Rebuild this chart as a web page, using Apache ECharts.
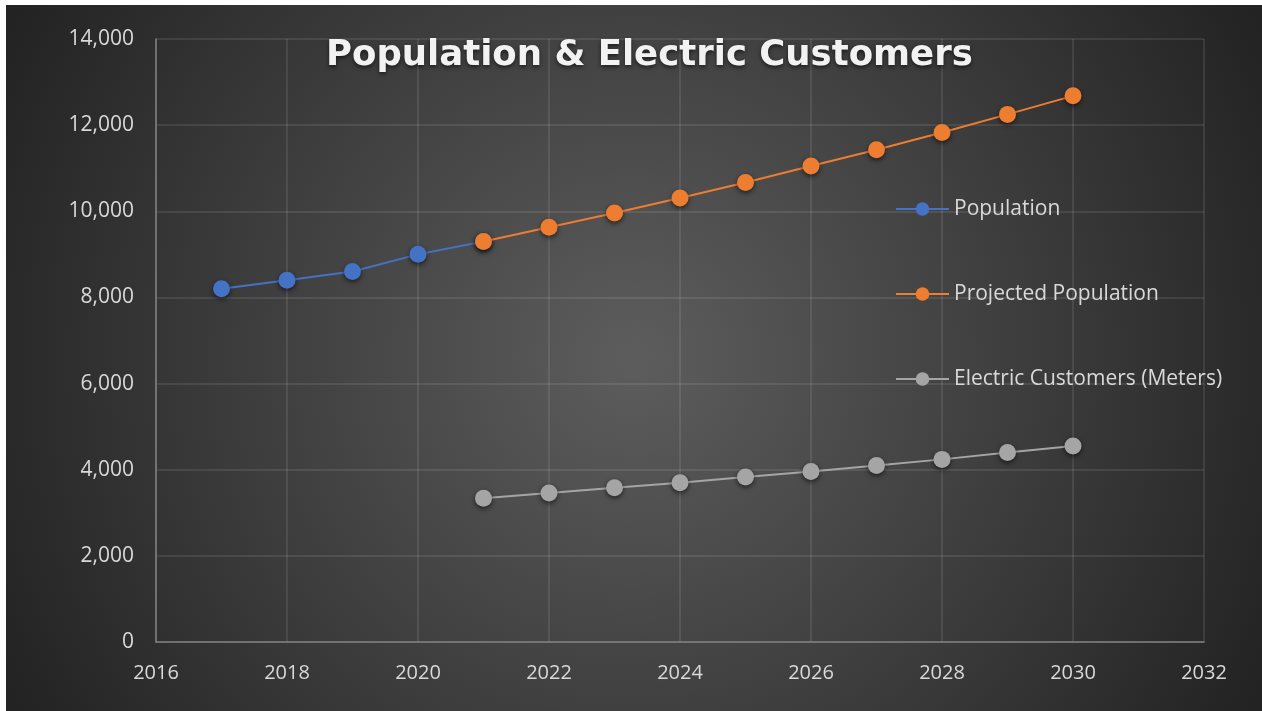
<!DOCTYPE html>
<html>
<head>
<meta charset="utf-8">
<script src="https://cdn.jsdelivr.net/npm/echarts@6/dist/echarts.min.js"></script>
<style>
html,body{margin:0;padding:0;background:#ffffff;}
#c{position:absolute;left:6px;top:5px;width:1256px;height:706px;}
</style>
</head>
<body>
<div id="c"></div>
<script>
var titleText = 'Population & Electric Customers';
var seriesNames = ['Population', 'Projected Population', 'Electric Customers (Meters)'];
var popYears = [2017, 2018, 2019, 2020, 2021];
var popValues = [8200, 8400, 8600, 9000, 9300];
var projYears = [2021, 2022, 2023, 2024, 2025, 2026, 2027, 2028, 2029, 2030];
var projValues = [9300, 9630, 9960, 10310, 10670, 11050, 11430, 11830, 12250, 12680];
var elecYears = [2021, 2022, 2023, 2024, 2025, 2026, 2027, 2028, 2029, 2030];
var elecValues = [3340, 3460, 3580, 3700, 3830, 3960, 4100, 4240, 4400, 4550];
var colors = ['#4472C4', '#ED7D31', '#A5A5A5'];

function pairs(xs, ys) { return xs.map(function (x, i) { return [x, ys[i]]; }); }

var chart = echarts.init(document.getElementById('c'));
var labelColor = '#d9d9d9';
var font = '"Open Sans", "Noto Sans", sans-serif';
function mk(name, data, color, z) {
  return {
    name: name, type: 'line', data: data, z: z,
    symbol: 'circle', symbolSize: 17,
    lineStyle: { color: color, width: 2 },
    itemStyle: { color: color, shadowBlur: 5, shadowColor: 'rgba(0,0,0,0.6)', shadowOffsetY: 2 },
    emphasis: { disabled: true },
    animation: false
  };
}
chart.setOption({
  animation: false,
  backgroundColor: {
    type: 'radial', x: 0.5, y: 0.5, r: 1.0,
    colorStops: [{ offset: 0, color: '#5d5d5d' }, { offset: 1, color: '#232323' }]
  },
  title: {
    text: titleText, left: 315, top: 28,
    textStyle: { color: '#f2f2f2', fontSize: 35.5, fontWeight: 'bold', fontFamily: '"DejaVu Sans", sans-serif',
      textShadowColor: 'rgba(0,0,0,0.6)', textShadowBlur: 4, textShadowOffsetY: 2 }
  },
  legend: {
    orient: 'vertical', left: 884, top: 188, itemGap: 63,
    itemWidth: 53, itemHeight: 17,
    data: seriesNames,
    textStyle: { color: labelColor, fontSize: 21, fontFamily: font, lineHeight: 22 }
  },
  grid: { left: 150, right: 58, top: 34, bottom: 69, containLabel: false },
  xAxis: {
    type: 'value', min: 2016, max: 2032, interval: 2,
    axisLine: { show: true, lineStyle: { color: '#808080', width: 1.5 } },
    axisTick: { show: false },
    axisLabel: { color: labelColor, fontSize: 20, fontFamily: font, margin: 21,
      formatter: function (v) { return String(v); } },
    splitLine: { show: true, lineStyle: { color: 'rgba(255,255,255,0.12)', width: 1.5 } }
  },
  yAxis: {
    type: 'value', min: 0, max: 14000, interval: 2000,
    axisLine: { show: true, lineStyle: { color: '#808080', width: 1.5 } },
    axisTick: { show: false },
    axisLabel: { color: labelColor, fontSize: 21, fontFamily: font, margin: 22,
      formatter: function (v) { return v.toLocaleString('en-US'); } },
    splitLine: { show: true, lineStyle: { color: 'rgba(255,255,255,0.12)', width: 1.5 } }
  },
  series: [
    mk(seriesNames[0], pairs(popYears, popValues), colors[0], 2),
    mk(seriesNames[1], pairs(projYears, projValues), colors[1], 3),
    mk(seriesNames[2], pairs(elecYears, elecValues), colors[2], 2)
  ]
});
</script>
</body>
</html>
